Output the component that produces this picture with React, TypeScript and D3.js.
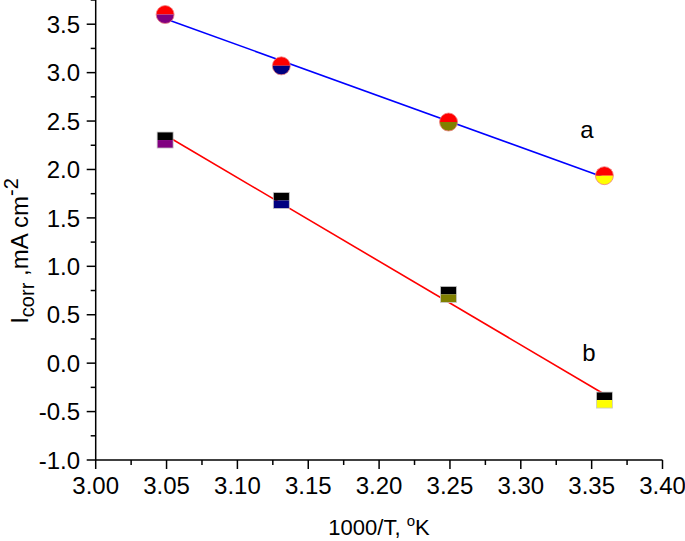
import React from 'react';
import * as d3 from 'd3';

const invTemp = [3.049, 3.131, 3.249, 3.359];
const seriesA = [3.6, 3.07, 2.49, 1.936];
const seriesB = [2.304, 1.68, 0.71, -0.381];
const lowerColors = ['#800080', '#000080', '#808000', '#ffff00'];
const xTickValues = [3.0, 3.05, 3.1, 3.15, 3.2, 3.25, 3.3, 3.35, 3.4];
const yTickValues = [-1.0, -0.5, 0.0, 0.5, 1.0, 1.5, 2.0, 2.5, 3.0, 3.5];
const seriesLabels = ['a', 'b'];

const W = 685;
const H = 541;
const FONT = '"Liberation Sans", Arial, sans-serif';

function fit(xs: number[], ys: number[]) {
  const mx = d3.mean(xs) as number;
  const my = d3.mean(ys) as number;
  let sxy = 0;
  let sxx = 0;
  xs.forEach((x, i) => {
    sxy += (x - mx) * (ys[i] - my);
    sxx += (x - mx) * (x - mx);
  });
  const slope = sxy / sxx;
  return (x: number) => my + slope * (x - mx);
}

export default function App() {
  const x = d3.scaleLinear().domain([3.0, 3.4]).range([95.7, 662.5]);
  const y = d3.scaleLinear().domain([-1, 3.75]).range([460, 0]);
  const x0 = x(3.0);
  const y0 = y(-1);

  const xMinor = d3.range(0, 17).map((i) => 3.0 + i * 0.025).filter((_, i) => i % 2 === 1);
  const yMinor = d3.range(0, 20).map((i) => -1 + i * 0.25).filter((_, i) => i % 2 === 1);

  const fa = fit(invTemp, seriesA);
  const fb = fit(invTemp, seriesB);
  const xs0 = invTemp[0];
  const xs1 = invTemp[invTemp.length - 1];
  const line = d3
    .line<[number, number]>()
    .x((d) => x(d[0]))
    .y((d) => y(d[1]));

  const r = 9;
  const topArc = d3.arc()({ innerRadius: 0, outerRadius: r, startAngle: -Math.PI / 2, endAngle: Math.PI / 2 }) as string;
  const botArc = d3.arc()({ innerRadius: 0, outerRadius: r, startAngle: Math.PI / 2, endAngle: (3 * Math.PI) / 2 }) as string;
  const s = 16;

  return (
    <svg
      width={W}
      height={H}
      style={{ position: 'absolute', left: 0, top: 0, background: '#fff' }}
      fontFamily={FONT}
    >
      {/* fit lines */}
      <path d={line([[xs0, fa(xs0)], [xs1, fa(xs1)]]) as string} stroke="#0000ff" strokeWidth={1.6} fill="none" />
      <path d={line([[xs0, fb(xs0)], [xs1, fb(xs1)]]) as string} stroke="#ff0000" strokeWidth={1.6} fill="none" />

      {/* circles series a */}
      {invTemp.map((xv, i) => (
        <g key={'a' + i} transform={`translate(${x(xv)},${y(seriesA[i])})`}>
          <path d={topArc} fill="#ff0000" />
          <path d={botArc} fill={lowerColors[i]} />
          <circle r={r} fill="none" stroke="#f08080" strokeWidth={0.8} />
        </g>
      ))}

      {/* squares series b */}
      {invTemp.map((xv, i) => (
        <g key={'b' + i} transform={`translate(${x(xv)},${y(seriesB[i])})`}>
          <rect x={-s / 2} y={-s / 2} width={s} height={s / 2} fill="#000000" />
          <rect x={-s / 2} y={0} width={s} height={s / 2} fill={lowerColors[i]} />
          <rect x={-s / 2} y={-s / 2} width={s} height={s} fill="none" stroke="#c8c8c8" strokeWidth={0.8} />
        </g>
      ))}

      {/* series labels */}
      <text x={587} y={138} fontSize={24} textAnchor="middle" fill="#000">{seriesLabels[0]}</text>
      <text x={589} y={361} fontSize={24} textAnchor="middle" fill="#000">{seriesLabels[1]}</text>

      {/* axes */}
      <line x1={x0} x2={x0} y1={0} y2={y0} stroke="#000" strokeWidth={1.5} />
      <line x1={x0} x2={x(3.4)} y1={y0} y2={y0} stroke="#000" strokeWidth={1.5} />

      {yTickValues.map((v) => (
        <g key={'yt' + v}>
          <line x1={x0 - 9} x2={x0} y1={y(v)} y2={y(v)} stroke="#000" strokeWidth={1.5} />
          <text x={80} y={y(v)} dy="0.36em" fontSize={24} textAnchor="end" fill="#000">
            {v.toFixed(1)}
          </text>
        </g>
      ))}
      {yMinor.map((v) => (
        <line key={'ym' + v} x1={x0 - 5} x2={x0} y1={y(v)} y2={y(v)} stroke="#000" strokeWidth={1.5} />
      ))}

      {xTickValues.map((v) => (
        <g key={'xt' + v}>
          <line x1={x(v)} x2={x(v)} y1={y0} y2={y0 + 9} stroke="#000" strokeWidth={1.5} />
          <text x={x(v)} y={494} fontSize={24} textAnchor="middle" fill="#000">
            {v.toFixed(2)}
          </text>
        </g>
      ))}
      {xMinor.map((v) => (
        <line key={'xm' + v} x1={x(v)} x2={x(v)} y1={y0} y2={y0 + 5} stroke="#000" strokeWidth={1.5} />
      ))}

      {/* x title */}
      <text x={379} y={535} fontSize={22} textAnchor="middle" fill="#000">
        1000/T,{' '}
        <tspan dy={-9} fontSize={15}>o</tspan>
        <tspan dy={9}>K</tspan>
      </text>

      {/* y title */}
      <text transform="translate(28,251) rotate(-90)" fontSize={24} textAnchor="middle" fill="#000">
        I
        <tspan dy={6} fontSize={20}>corr</tspan>
        <tspan dy={-6}> ,mA cm</tspan>
        <tspan dy={-10} fontSize={20}>-2</tspan>
      </text>
    </svg>
  );
}
